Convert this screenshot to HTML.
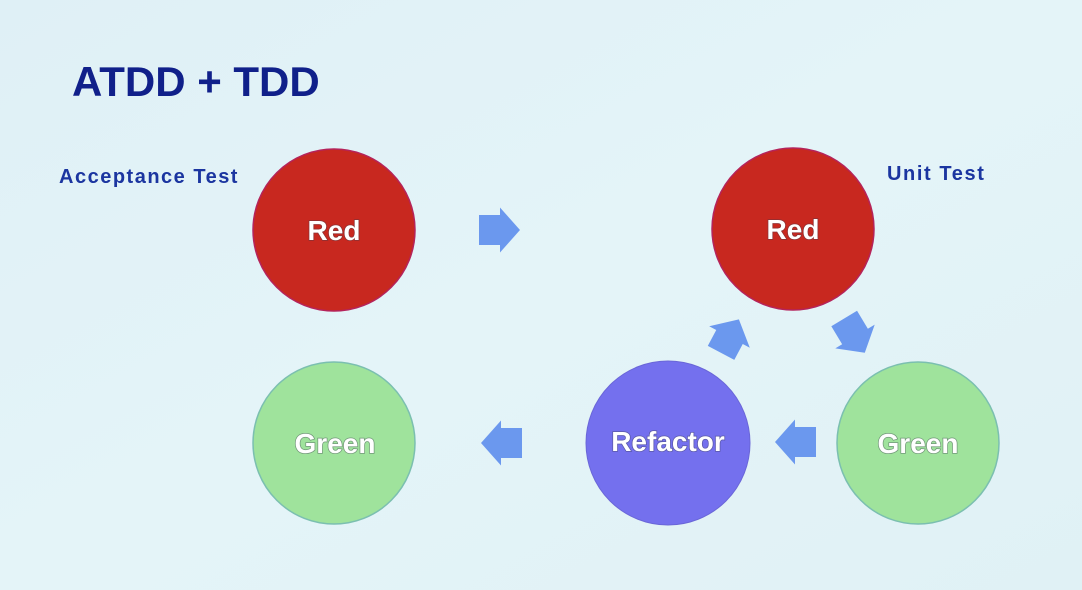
<!DOCTYPE html>
<html>
<head>
<meta charset="utf-8">
<style>
  html,body{margin:0;padding:0;}
  body{width:1082px;height:590px;overflow:hidden;background:#e1f2f7;}
  svg{display:block;}
  .lbl{font-family:"Liberation Sans",sans-serif;font-weight:bold;fill:#fff;font-size:28px;text-anchor:middle;paint-order:stroke;stroke:rgba(60,60,80,0.45);stroke-width:1.5px;}
</style>
</head>
<body>
<svg width="1082" height="590" viewBox="0 0 1082 590" xmlns="http://www.w3.org/2000/svg">
  <defs>
    <linearGradient id="bg" x1="0" y1="0" x2="1" y2="1">
      <stop offset="0" stop-color="#dff0f6"/>
      <stop offset="0.5" stop-color="#e4f4f8"/>
      <stop offset="1" stop-color="#e0f1f5"/>
    </linearGradient>
    <path id="arr" d="M-21,-15 L0,-15 L0,-22.5 L20,0 L0,22.5 L0,15 L-21,15 Z" fill="#6b98ee"/>
  </defs>
  <rect x="0" y="0" width="1082" height="590" fill="url(#bg)"/>

  <text x="72" y="96" font-family="Liberation Sans, sans-serif" font-weight="bold" font-size="42" fill="#10208a">ATDD + TDD</text>
  <text x="59" y="183" font-family="Liberation Sans, sans-serif" font-weight="bold" font-size="20" letter-spacing="1.5" fill="#1b35a0">Acceptance Test</text>
  <text x="887" y="180" font-family="Liberation Sans, sans-serif" font-weight="bold" font-size="20" letter-spacing="1.6" fill="#1b35a0">Unit Test</text>

  <!-- circles -->
  <circle cx="334" cy="230" r="81" fill="#c8281f" stroke="#b5235a" stroke-width="1.5"/>
  <circle cx="793" cy="229" r="81" fill="#c8281f" stroke="#b5235a" stroke-width="1.5"/>
  <circle cx="334" cy="443" r="81" fill="#9fe39c" stroke="#7bbfb0" stroke-width="1.5"/>
  <circle cx="918" cy="443" r="81" fill="#9fe39c" stroke="#7bbfb0" stroke-width="1.5"/>
  <circle cx="668" cy="443" r="82" fill="#7470ee" stroke="#6a66d8" stroke-width="1"/>

  <text class="lbl" x="334" y="240">Red</text>
  <text class="lbl" x="793" y="239">Red</text>
  <text class="lbl" x="335" y="453">Green</text>
  <text class="lbl" x="918" y="453">Green</text>
  <text class="lbl" x="668" y="451">Refactor</text>

  <!-- arrows -->
  <use href="#arr" transform="translate(500,230)"/>
  <use href="#arr" transform="translate(501,443) rotate(180)"/>
  <use href="#arr" transform="translate(795,442) rotate(180)"/>
  <path d="M-18,-15 L0,-15 L0,-23 L20,0 L0,23 L0,15 L-18,15 Z" fill="#6b98ee" transform="translate(729.5,337) rotate(-62)"/>
  <path d="M-21,-15 L0,-15 L0,-23 L19,0 L0,23 L0,15 L-21,15 Z" fill="#6b98ee" transform="translate(855,336.5) rotate(59)"/>
</svg>
</body>
</html>
